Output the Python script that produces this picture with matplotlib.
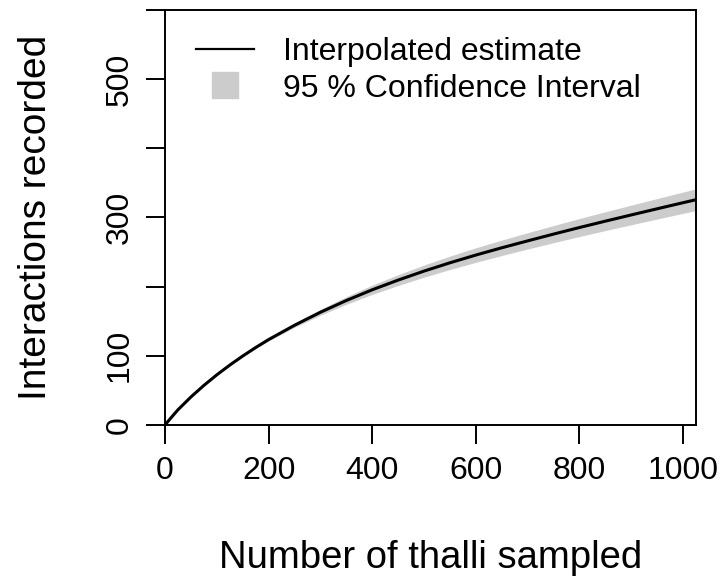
import matplotlib.pyplot as plt
from matplotlib.lines import Line2D

# rarefaction curve, values
thalli = [0, 10, 25, 50, 75, 100, 125, 150, 175, 200, 250, 300, 350, 400, 450, 500,
          550, 600, 650, 700, 750, 800, 850, 900, 950, 1000, 1025]
estimate = [0, 9, 22, 40.5, 57.2, 72.5, 86.6, 99.7, 112, 123.5, 144.2, 163, 180, 195.5,
            209.5, 222.5, 234.5, 245.7, 256.2, 266.2, 276, 285.5, 294.7, 303.7, 312.6,
            321.4, 325.7]
ci_lower = [0, 9, 22, 40.5, 57.2, 72.5, 86.6, 98.9, 110.6, 121.5, 141.2, 158.8, 174.5,
            188.8, 201.7, 213.7, 224.8, 235.2, 245.0, 254.4, 263.6, 272.5, 281.1, 289.5,
            297.8, 306.0, 310.0]
ci_upper = [0, 9, 22, 40.5, 57.2, 72.5, 86.6, 100.6, 113.4, 125.5, 147.2, 167.2, 185.5,
            202.2, 217.3, 231.3, 244.2, 256.2, 267.4, 278.0, 288.4, 298.5, 308.3, 317.9,
            327.4, 336.8, 341.4]

y_ticks = [0, 100, 200, 300, 400, 500, 600]
y_labels = ['0', '100', '', '300', '', '500', '']
x_ticks = [0, 200, 400, 600, 800, 1000]

plt.rcParams['font.family'] = ['Liberation Sans', 'DejaVu Sans']

fig = plt.figure(figsize=(7.21, 5.8), dpi=100)
ax = fig.add_axes([165/721, 1 - 425/580, (696 - 165)/721, (425 - 10)/580])

ax.fill_between(thalli, ci_lower, ci_upper, color='#cccccc', lw=0)
ax.plot(thalli, estimate, color='black', lw=2.2)

ax.set_xlim(0, 1025)
ax.set_ylim(0, 600)
ax.set_xticks(x_ticks)
ax.set_yticks(y_ticks)
ax.set_yticklabels(y_labels, rotation=90, va='center')
ax.tick_params(length=14, width=1.4, labelsize=23, pad=8)
for s in ax.spines.values():
    s.set_linewidth(1.4)

ax.set_xlabel('Number of thalli sampled', fontsize=27.5, labelpad=39)
ax.set_ylabel('Interactions recorded', fontsize=28, labelpad=36)

handles = [Line2D([], [], color='black', lw=1.6),
           Line2D([], [], marker='s', color='#cccccc', markersize=19, linestyle='none')]
ax.legend(handles, ['Interpolated estimate', '95 % Confidence Interval'],
          loc='upper left', bbox_to_anchor=(0.0075, 1.0), frameon=False, fontsize=23,
          handlelength=1.82, handletextpad=0.9, labelspacing=0.2, borderaxespad=0.45)

fig.savefig('out.png', dpi=100)
